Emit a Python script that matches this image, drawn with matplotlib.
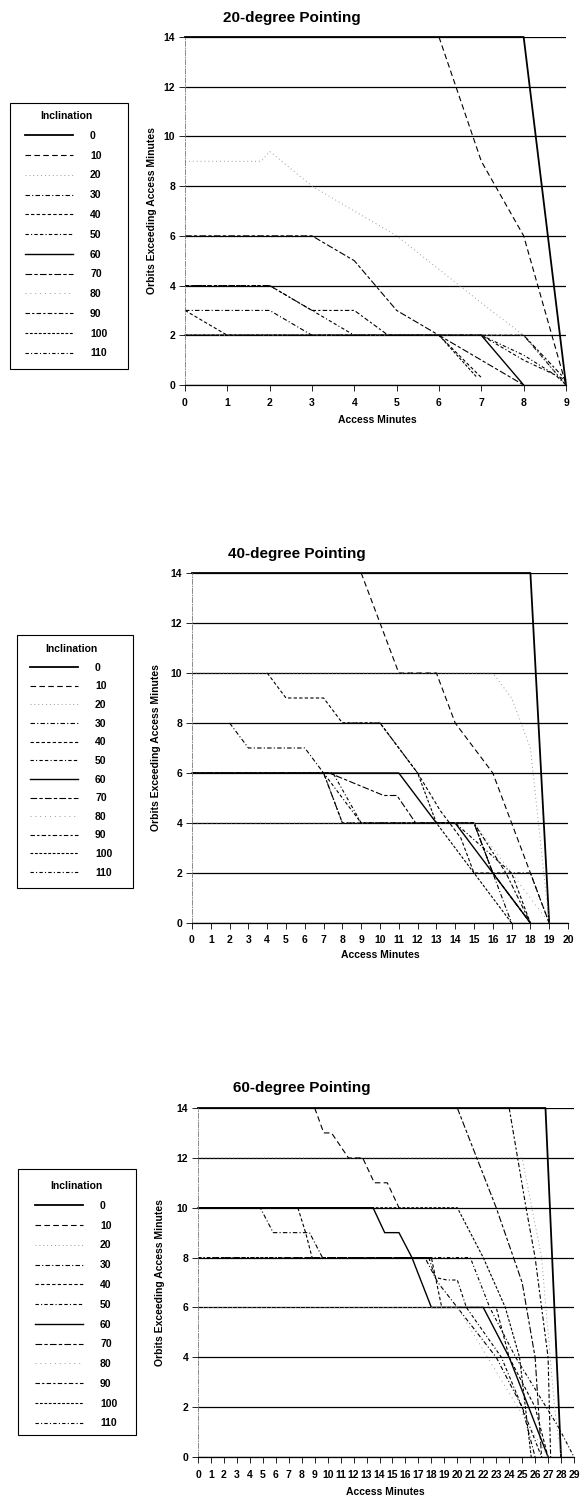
import matplotlib
matplotlib.use("Agg")
from matplotlib import pyplot as plt
from matplotlib.patches import Rectangle

plt.rcParams['font.family'] = ['Liberation Sans', 'DejaVu Sans']
plt.rcParams['font.weight'] = 'bold'

# Inclinations shown in every legend
incl = [0, 10, 20, 30, 40, 50, 60, 70, 80, 90, 100, 110]

# Orbits exceeding access minutes (x = access minutes)
# 20-degree pointing
p20 = {
    0: ([0, 8, 9], [14, 14, 0]),
    10: ([6, 7, 8, 9], [14, 9, 6, 0]),
    20: ([0, 1.8, 2, 3, 4, 4.7, 5, 7, 8, 9], [9, 9, 9.4, 8, 7, 6.3, 6, 3.3, 2, 0]),
    30: ([0, 2, 3, 8, 9], [3, 3, 2, 2, 0]),
    40: ([0, 1, 6, 7], [3, 2, 2, 0.3]),
    50: ([0, 2, 3, 4, 7, 8, 9], [4, 4, 3, 2, 2, 1, 0.2]),
    60: ([0, 7, 8], [2, 2, 0]),
    70: ([0, 3, 4, 5, 6, 7, 8], [6, 6, 5, 3, 2, 1, 0]),
    80: ([0, 8, 9], [2, 2, 0]),
    90: ([0, 2, 3, 4, 4.8, 8, 9], [4, 4, 3, 3, 2, 2, 0.2]),
    100: ([0, 6, 6.9], [2, 2, 0.3]),
    110: ([0, 7, 8, 8.75, 9], [2, 2, 1.2, 0.4, 0]),
}

# 40-degree pointing
p40 = {
    0: ([0, 18, 19], [14, 14, 0]),
    10: ([9, 11, 13, 14, 16, 17, 18, 19], [14, 10, 10, 8, 6, 4, 2, 0]),
    20: ([0, 16, 17, 18, 19], [10, 10, 9, 7, 0]),
    30: ([2, 3, 6, 7, 8, 15, 16, 17], [8, 7, 7, 6, 4, 4, 2, 0]),
    40: ([4, 5, 7, 8, 10, 12, 13.2, 14.3, 15, 17, 18], [10, 9, 9, 8, 8, 6, 4.5, 3.4, 2, 2, 0]),
    50: ([0, 7, 9, 15, 16, 18], [6, 6, 4, 4, 2, 0]),
    60: ([0, 11, 13, 14, 16, 18], [6, 6, 4, 4, 2, 0]),
    70: ([0, 7.3, 10.2, 10.9, 11.9, 15, 16, 17, 18], [6, 6, 5.1, 5.1, 4, 4, 2, 1, 0]),
    80: ([0, 15, 17, 19], [4, 4, 2, 0]),
    90: ([0, 7, 8, 15, 16.7, 18], [6, 6, 4, 4, 2, 0]),
    100: ([8, 10, 12, 13, 15, 17], [8, 8, 6, 4, 2, 0]),
    110: ([0, 7.5, 9, 14, 17, 18, 19], [6, 6, 4, 4, 2, 2, 0]),
}

# 60-degree pointing
p60 = {
    0: ([0, 26.8, 28], [14, 14, 0]),
    10: ([9, 9.7, 10.3, 11.6, 12.7, 13.6, 14.6, 15.5], [14, 13, 13, 12, 12, 11, 11, 10]),
    20: ([0, 25, 26.5, 27.5, 28], [12, 12, 8, 2, 0]),
    30: ([0, 4.8, 5.8, 8.6, 9.6, 17.5, 18.5, 20, 23, 25, 26], [10, 10, 9, 9, 8, 8, 7, 6, 4, 2, 0]),
    40: ([0, 7.7, 8.3, 8.8, 18, 18.8, 23, 24, 26, 27], [10, 10, 9, 8, 8, 6, 6, 4, 2, 0]),
    50: ([0, 17.8, 18.3, 19.2, 20, 20.7, 23.4, 25, 26.5], [8, 8, 7.2, 7.1, 7.1, 6, 4, 2, 0]),
    60: ([0, 13.5, 14.4, 15.5, 16.5, 18, 22, 24, 27], [10, 10, 9, 9, 8, 6, 6, 4, 0]),
    70: ([20, 23, 25, 26, 26.5], [14, 10, 7, 4, 0]),
    80: ([0, 20, 27], [6, 6, 0]),
    90: ([24, 25.3, 26, 27, 27.2], [14, 10, 8, 4, 0]),
    100: ([0, 20, 22, 23.7, 24.8, 25.7], [10, 10, 8, 6, 4, 0]),
    110: ([0, 21, 22.5, 24.5, 27.8, 29], [8, 8, 6, 4, 1.2, 0]),
}

styles = {
    0: dict(color='black', ls='-', lw=1.3),
    10: dict(color='black', ls=(0, (5, 3)), lw=0.8),
    20: dict(color='#9a9a9a', ls=(0, (1, 3)), lw=0.7),
    30: dict(color='black', ls=(0, (4, 2, 1, 2)), lw=0.8),
    40: dict(color='black', ls=(0, (3, 2)), lw=0.8),
    50: dict(color='black', ls=(0, (3, 2, 1, 2, 3, 2)), lw=0.8),
    60: dict(color='black', ls='-', lw=1.0),
    70: dict(color='black', ls=(0, (6, 2, 3, 2)), lw=0.8),
    80: dict(color='#9a9a9a', ls=(0, (1, 4)), lw=0.7),
    90: dict(color='black', ls=(0, (4, 2, 2, 2)), lw=0.8),
    100: dict(color='black', ls=(0, (2.5, 1.5)), lw=0.8),
    110: dict(color='black', ls=(0, (3, 2, 1, 2)), lw=0.8),
}

W, H = 588, 1500
fig = plt.figure(figsize=(W / 100, H / 100), dpi=100)


def fx(px):
    return px / W


def fy(py):
    return 1 - py / H


# layout in pixels: axes box (left, right, top, bottom), title x/y, ylabel x,
# xlabel x/y, legend content anchor x/y, legend frame (l, r, t, b), row spacing
panels = [
    (p20, "20-degree Pointing", 9, (185, 566, 37, 385), (292, 18), 152, (377, 420),
     (25, 111), (10, 128, 103, 369), 0.94),
    (p40, "40-degree Pointing", 20, (192, 568, 573, 923), (297, 554), 156, (380, 955),
     (30, 644), (17, 133, 635, 888), 0.83),
    (p60, "60-degree Pointing", 29, (198, 574, 1108, 1457), (302, 1088), 160, (385, 1492),
     (35, 1181), (18, 136, 1169, 1435), 0.94),
]

for data, title, xmax, box, tpos, ylx, xlpos, lpos, frame, lsp in panels:
    l, r, t, b = box
    ax = fig.add_axes([fx(l), fy(b), fx(r - l), (b - t) / H])
    handles = []
    for k in incl:
        xs, ys = data[k]
        ln, = ax.plot(xs, ys, clip_on=False, **styles[k])
        handles.append(ln)
    ax.set_xlim(0, xmax)
    ax.set_ylim(0, 14)
    ax.set_yticks(range(0, 15, 2))
    ax.set_xticks(range(0, xmax + 1))
    ax.yaxis.grid(True, color='black', lw=0.9)
    ax.set_axisbelow(True)
    for s in ['top', 'right']:
        ax.spines[s].set_visible(False)
    ax.spines['bottom'].set_linewidth(0.9)
    ax.spines['left'].set_color('#777777')
    ax.spines['left'].set_linestyle((0, (6, 2, 1, 2)))
    ax.spines['left'].set_linewidth(0.6)
    ax.tick_params(axis='both', labelsize=7.5, length=4, width=0.6, color='black')
    ax.tick_params(axis='x', pad=5)
    ax.tick_params(axis='y', pad=3)
    for lab in ax.get_xticklabels() + ax.get_yticklabels():
        lab.set_fontweight('bold')

    fig.text(fx(tpos[0]), fy(tpos[1]), title, ha='center', va='center',
             fontsize=11, fontweight='heavy')
    fig.text(fx(ylx), fy((t + b) / 2), "Orbits Exceeding Access Minutes",
             rotation=90, ha='center', va='center', fontsize=7.5, fontweight='bold')
    fig.text(fx(xlpos[0]), fy(xlpos[1]), "Access Minutes", ha='center', va='center',
             fontsize=7.5, fontweight='bold')

    fig.legend(handles, [str(k) for k in incl], title="Inclination",
               loc='upper left', bbox_to_anchor=(fx(lpos[0]), fy(lpos[1])),
               frameon=False,
               prop={'weight': 'bold', 'size': 7.5},
               title_fontproperties={'weight': 'bold', 'size': 7.5},
               handlelength=4.6, handletextpad=1.65, labelspacing=lsp,
               borderpad=0, borderaxespad=0)
    fl, fr, ft, fb = frame
    fig.patches.append(Rectangle((fx(fl), fy(fb)), fx(fr - fl), (fb - ft) / H,
                                 transform=fig.transFigure, fill=False,
                                 ec='black', lw=0.8))

fig.savefig("out.png", dpi=100)
